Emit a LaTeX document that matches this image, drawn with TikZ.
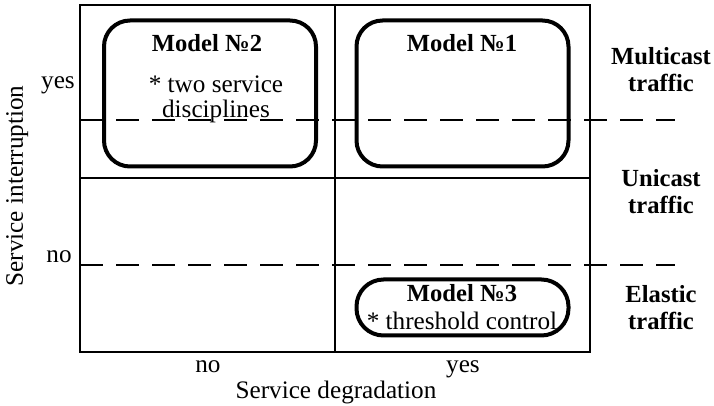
\documentclass[tikz,border=0pt]{standalone}
\usepackage{fontspec}
\setmainfont{Liberation Serif}
\usetikzlibrary{positioning}
\tikzset{
  cell/.style ={line width=1.4pt},
  mbox/.style ={draw, line width=2pt, rounded corners=13pt, minimum width=106pt,
                minimum height=73pt, inner sep=0pt},
  pill/.style ={draw, line width=2pt, rounded corners=13.5pt, minimum width=106pt,
                minimum height=28pt, inner sep=0pt},
  lvl/.style  ={line width=1.4pt, dash pattern=on 11.5pt off 6.5pt},
  txt/.style  ={inner sep=0pt, font=\fontsize{12.6}{12.5}\selectfont, align=center},
  btxt/.style ={inner sep=0pt, font=\fontsize{12.3}{13.5}\selectfont\bfseries, align=center},
}

\begin{document}
\begin{tikzpicture}[x=0.5pt, y=-0.5pt]
  \useasboundingbox (0,0) rectangle (714,406);
  % grid
  \coordinate (nw) at (80,5);   \coordinate (se) at (590,352);
  \coordinate (mt) at (335,5);  \coordinate (mb) at (335,352);
  \coordinate (ml) at (80,178); \coordinate (mr) at (590,178);
  \draw[cell] (nw) rectangle (se);
  \draw[cell] (mt) -- (mb);
  \draw[cell] (ml) -- (mr);
  % models
  \node[mbox] (m2) at (210,93.5){};
  \node[mbox] (m1) at (462.5,93.5){};
  \node[pill] (m3) at (462.5,307.5){};
  \node[btxt,anchor=base] (m2t) at (207,52){Model №2};
  \node[txt] (m2n) at (216,99){* two service\\disciplines};
  \node[btxt,anchor=base] (m1t) at (462,52){Model №1};
  \node[btxt,anchor=base] (m3t) at (462,302){Model №3};
  \node[txt,anchor=base] (m3n) at (462,330){* threshold control};
  % levels
  \coordinate (yl) at (80,120); \coordinate (yr) at (675,120);
  \coordinate (nl) at (80,265); \coordinate (nr) at (675,265);
  \draw[lvl] (yl) -- (yr);
  \draw[lvl] (nl) -- (nr);
  % traffic
  \node[btxt] (mc) at (661,70){Multicast\\traffic};
  \node[btxt] (uc) at (661,191.5){Unicast\\traffic};
  \node[btxt] (el) at (661,307.5){Elastic\\traffic};
  % axes
  \node[txt,anchor=base] (iy) at (58,89){yes};
  \node[txt,anchor=base] (in) at (59,263){no};
  \node[txt,anchor=base] (dn) at (208,373){no};
  \node[txt,anchor=base] (dy) at (463,373){yes};
  \node[txt,anchor=base] (dl) at (336,399){Service degradation};
  \node[txt,anchor=base,rotate=90] (il) at (23,186){Service interruption};
\end{tikzpicture}
\end{document}
